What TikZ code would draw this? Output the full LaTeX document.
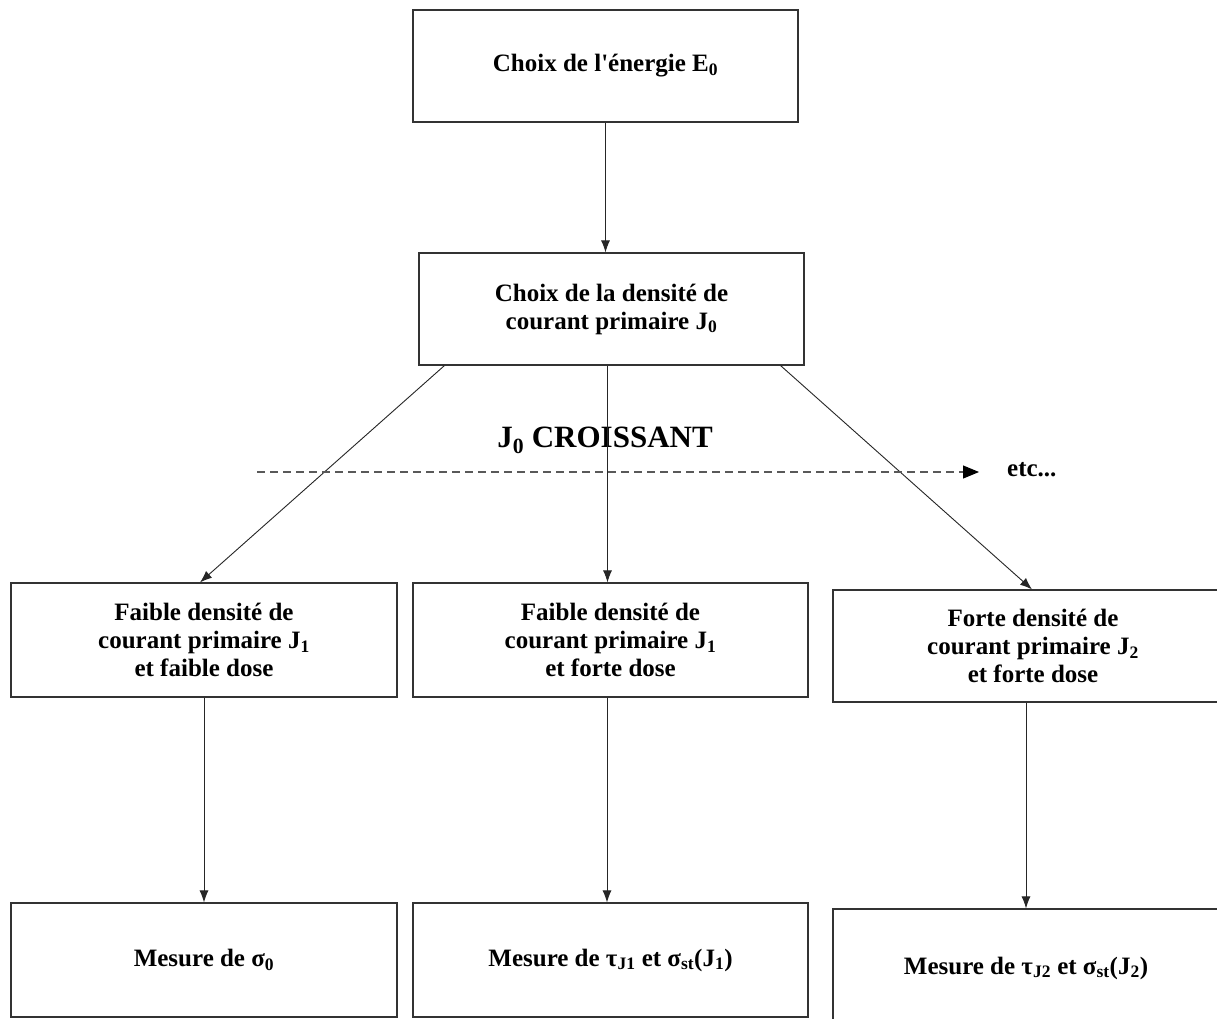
\documentclass[tikz,border=0pt]{standalone}
\usepackage{fontspec}
\setmainfont{Liberation Serif}
\usetikzlibrary{arrows.meta}

\begin{document}
\begin{tikzpicture}[x=1pt, y=-1pt,
    box/.style={draw=black!80, line width=1.2pt, minimum width=385pt, minimum height=112pt,
        inner sep=0pt, align=center, font=\fontsize{25}{28}\selectfont\bfseries},
    arr/.style={draw=black!85, line width=0.9pt, -{Latex[length=12pt,width=9pt]}},
    dasharr/.style={draw=black!65, line width=1.1pt, dash pattern=on 8pt off 5pt,
        -{Triangle[length=16pt,width=13pt,color=black]}},
    lbl/.style={inner sep=0pt, font=\fontsize{25}{28}\selectfont\bfseries}]
    \clip (0,0) rectangle (1217,1018);
    \fill[white] (0,0) rectangle (1217,1018);
    % Nodes
    \node[box] (e0) at (605.5,66) {Choix de l\textquotesingle énergie E\textsubscript{0}};
    \node[box] (j0) at (611.5,309) {Choix de la densité de\\courant primaire J\textsubscript{0}};
    \node[box, minimum width=386pt, minimum height=114pt] (f1) at (204,640)
        {Faible densité de\\courant primaire J\textsubscript{1}\\et faible dose};
    \node[box, minimum width=395pt, minimum height=114pt] (f2) at (610.5,640)
        {Faible densité de\\courant primaire J\textsubscript{1}\\et forte dose};
    \node[box, minimum width=400pt] (f3) at (1033,646)
        {Forte densité de\\courant primaire J\textsubscript{2}\\et forte dose};
    \node[box, minimum width=386pt, minimum height=114pt] (m0) at (204,960)
        {Mesure de σ\textsubscript{0}};
    \node[box, minimum width=395pt, minimum height=114pt] (m1) at (610.5,960)
        {Mesure de τ\textsubscript{J1} et σ\textsubscript{st}(J\textsubscript{1})};
    \node[box, minimum width=400pt, minimum height=124pt] (m2) at (1033,971)
        {};
    \node[lbl] (m2txt) at (1026,968) {Mesure de τ\textsubscript{J2} et σ\textsubscript{st}(J\textsubscript{2})};
    \node[lbl, font=\fontsize{31}{34}\selectfont\bfseries] (incr) at (605,440) {J\textsubscript{0} CROISSANT};
    \node[lbl, anchor=west] (etc) at (1007,470) {etc...};
    \coordinate (ds) at (257,472);
    \coordinate (de) at (979,472);
    % Edges
    \draw[arr] (e0.south) -- (e0.south |- j0.north);
    \draw[arr] ([xshift=26pt]j0.south west) -- ([xshift=-4pt]f1.north);
    \draw[arr] ([xshift=-4pt]j0.south) -- ([xshift=-4pt]j0.south |- f2.north);
    \draw[arr] ([xshift=-24pt]j0.south east) -- ([xshift=-1pt]f3.north);
    \draw[arr] (f1.south) -- (m0.north);
    \draw[arr] ([xshift=-3.5pt]f2.south) -- ([xshift=-3.5pt]m1.north);
    \draw[arr] ([xshift=-7pt]f3.south) -- ([xshift=-7pt]f3.south |- m2.north);
    \draw[dasharr] (ds) -- (de);
\end{tikzpicture}
\end{document}
